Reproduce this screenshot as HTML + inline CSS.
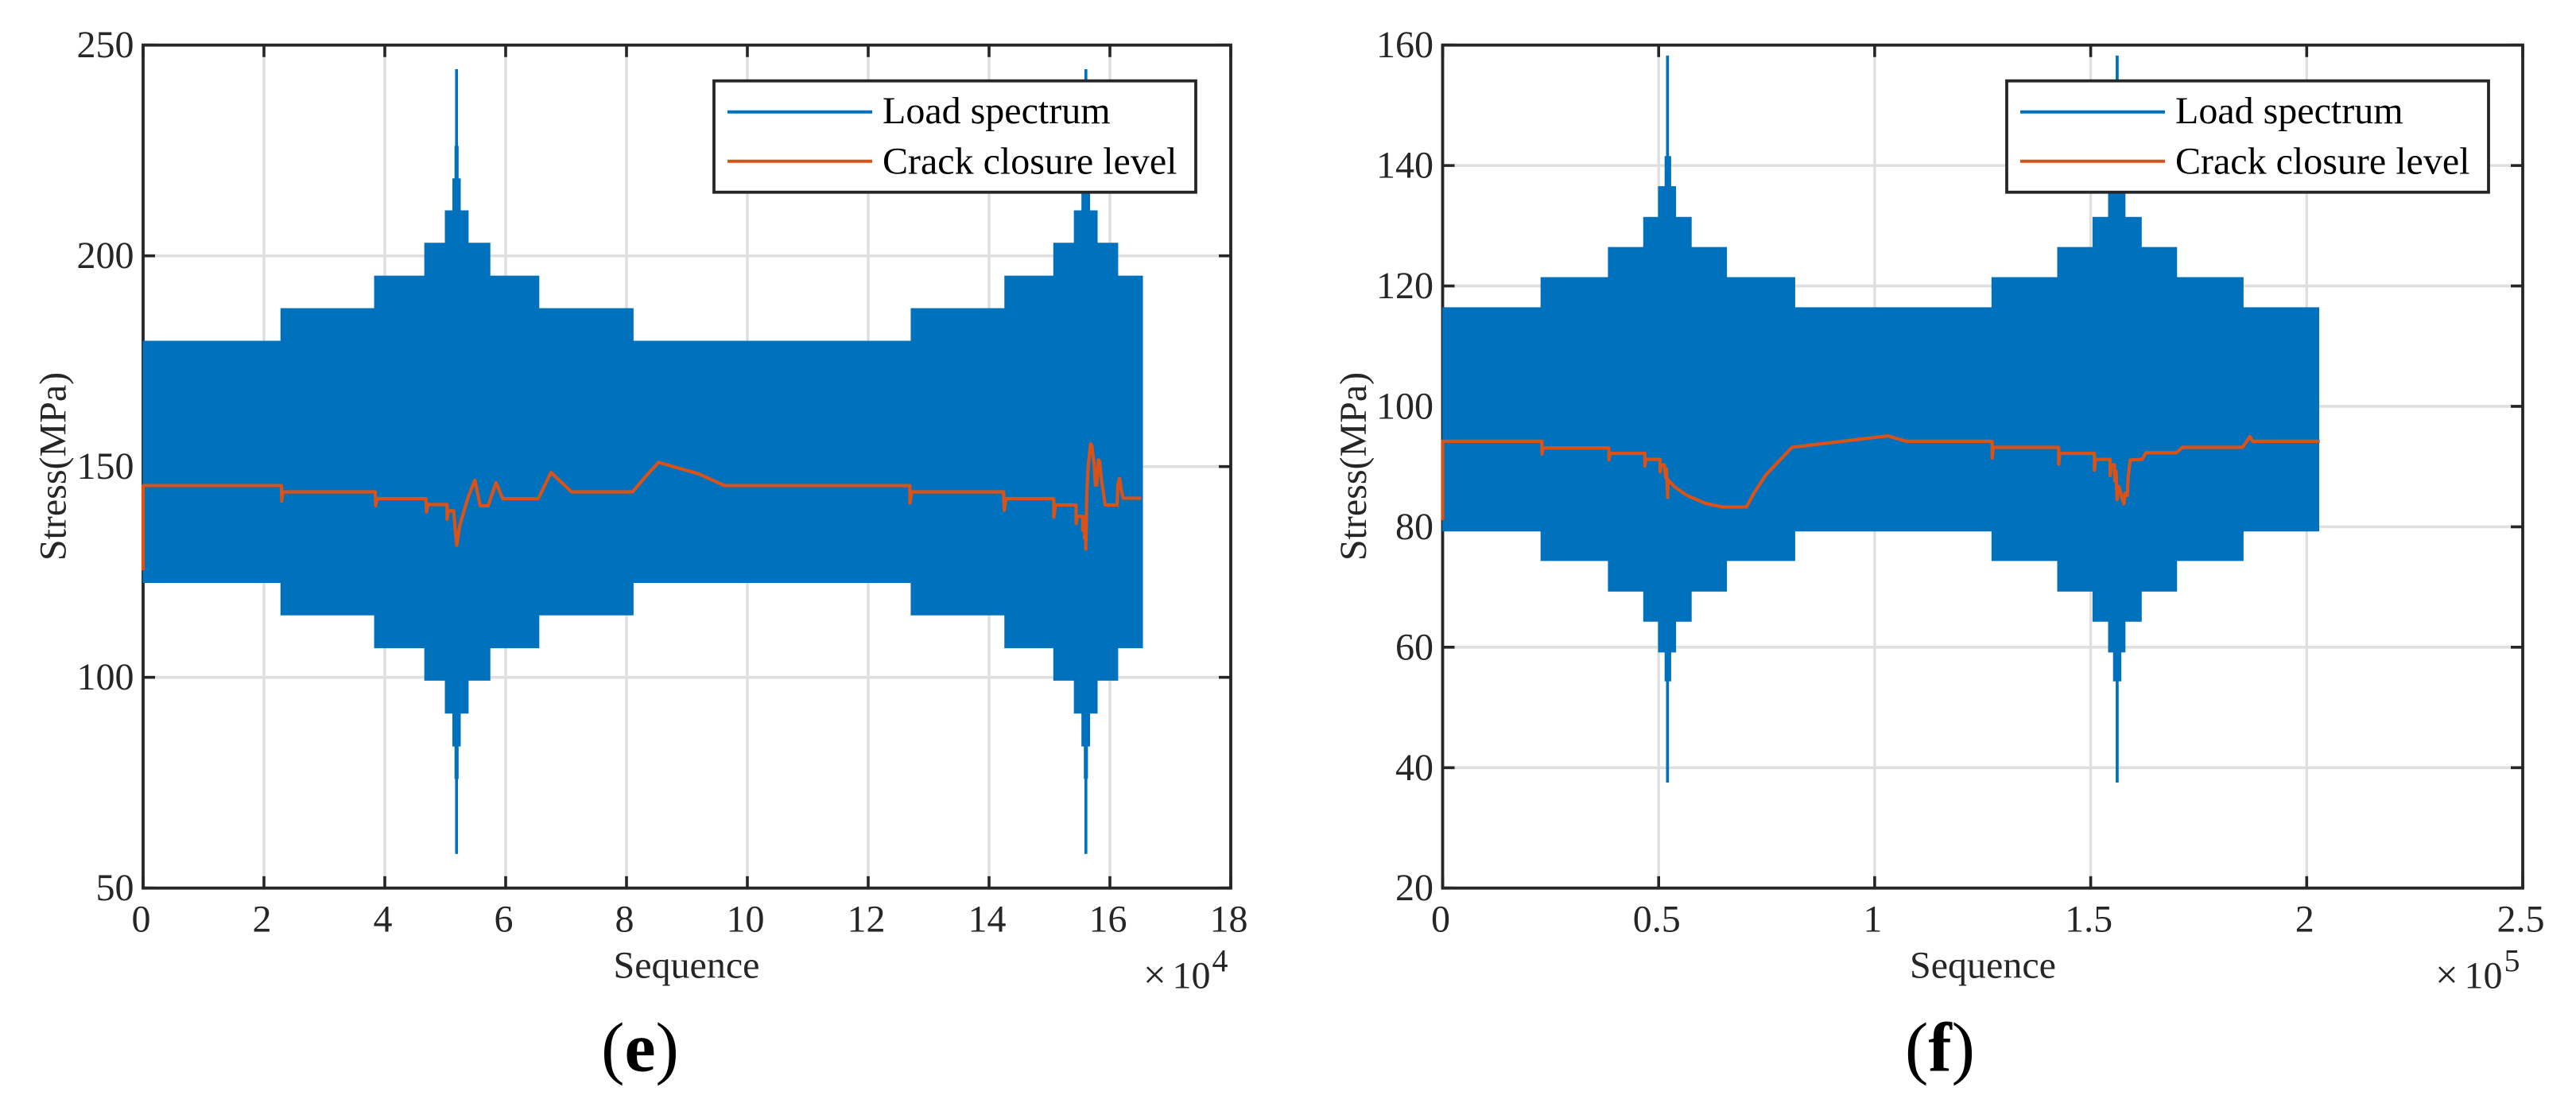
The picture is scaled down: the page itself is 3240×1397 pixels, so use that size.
<!DOCTYPE html>
<html lang="en">
<head>
<meta charset="utf-8">
<title>Load spectrum and crack closure level</title>
<style>
html,body{margin:0;padding:0;background:#fff;width:3240px;height:1397px;overflow:hidden}
svg{display:block}
text{font-family:"Liberation Serif","Times New Roman",serif;fill:#262626}
</style>
</head>
<body>
<svg id="figure" xmlns="http://www.w3.org/2000/svg" width="3240" height="1397" viewBox="0 0 3240 1397">
  <rect x="0" y="0" width="3240" height="1397" fill="#ffffff"/>
  <g id="panel-e"></g>
  <g id="panel-f"></g>
  <text x="805" y="1346.7" font-size="88" text-anchor="middle" style="fill:#000">(<tspan font-weight="bold">e</tspan>)</text>
  <text x="2440" y="1346.7" font-size="88" text-anchor="middle" style="fill:#000">(<tspan font-weight="bold">f</tspan>)</text>
</svg>
<script>
// ---------- Chart (e) data ----------
const xTicksE = [0, 2, 4, 6, 8, 10, 12, 14, 16, 18];
const yTicksE = [50, 100, 150, 200, 250];
const spectrumEdgesE = [0, 2.28, 3.83, 4.66, 5.0, 5.125, 5.16, 5.17, 5.205, 5.215, 5.25, 5.38, 5.74, 6.55, 8.11, 12.71, 14.26, 15.07, 15.41, 15.535, 15.575, 15.585, 15.62, 15.63, 15.665, 15.79, 16.13, 16.54];
const spectrumUpperE = [179.75, 187.5, 195.2, 203, 210.7, 218.3, 226, 244.2, 226, 218.3, 210.7, 203, 195.2, 187.5, 179.75, 187.5, 195.2, 203, 210.7, 218.3, 226, 244.2, 226, 218.3, 210.7, 203, 195.2];
const spectrumLowerE = [122.5, 114.8, 107, 99.3, 91.5, 83.7, 76, 58.2, 76, 83.7, 91.5, 99.3, 107, 114.8, 122.5, 114.8, 107, 99.3, 91.5, 83.7, 76, 58.2, 76, 83.7, 91.5, 99.3, 107];
const closureSeqE = [0, 0, 2.29, 2.295, 2.31, 3.84, 3.85, 3.87, 4.68, 4.69, 4.71, 5.03, 5.03, 5.05, 5.14, 5.17, 5.19, 5.24, 5.38, 5.49, 5.58, 5.71, 5.84, 5.95, 6.54, 6.75, 7.09, 8.10, 8.30, 8.53, 9.19, 9.62, 12.69, 12.69, 12.72, 14.24, 14.25, 14.28, 15.07, 15.07, 15.10, 15.44, 15.44, 15.46, 15.55, 15.55, 15.58, 15.58, 15.60, 15.60, 15.62, 15.64, 15.68, 15.70, 15.74, 15.76, 15.78, 15.81, 15.83, 15.86, 15.90, 15.92, 16.12, 16.13, 16.16, 16.19, 16.22, 16.52];
const closureStressE = [125.4, 145.5, 145.5, 141.8, 144, 144, 140.7, 142.4, 142.4, 139.2, 141, 141, 137.5, 139.5, 139.5, 134.3, 131.3, 136, 142.8, 146.8, 140.7, 140.7, 146.2, 142.4, 142.4, 148.6, 144, 144, 147.4, 151, 148.3, 145.5, 145.5, 141.3, 144, 144, 139.6, 142.4, 142.4, 138, 140.9, 140.9, 136.5, 138.2, 138.2, 134.9, 138, 133, 138, 130.4, 144.3, 150, 155.4, 155, 150.6, 145.6, 145.6, 151.6, 151.3, 146.9, 143.1, 140.9, 140.9, 145.6, 147.2, 144.3, 142.5, 142.5];

// ---------- Chart (f) data ----------
const xTicksF = [0, 0.5, 1, 1.5, 2, 2.5];
const yTicksF = [20, 40, 60, 80, 100, 120, 140, 160];
const spectrumEdgesF = [0, 0.2276, 0.3835, 0.4652, 0.4995, 0.5147, 0.518, 0.523, 0.528, 0.5394, 0.5755, 0.6572, 0.8151, 1.2713, 1.4235, 1.5052, 1.5412, 1.5527, 1.5588, 1.5638, 1.57, 1.5795, 1.6172, 1.699, 1.8529, 2.028];
const spectrumUpperF = [116.4, 121.4, 126.4, 131.4, 136.5, 141.5, 158.2, 141.5, 136.5, 131.4, 126.4, 121.4, 116.4, 121.4, 126.4, 131.4, 136.5, 141.5, 158.2, 141.5, 136.5, 131.4, 126.4, 121.4, 116.4];
const spectrumLowerF = [79.3, 74.4, 69.3, 64.3, 59.2, 54.4, 37.6, 54.4, 59.2, 64.3, 69.3, 74.4, 79.3, 74.4, 69.3, 64.3, 59.2, 54.4, 37.6, 54.4, 59.2, 64.3, 69.3, 74.4, 79.3];
const closureSeqF = [0, 0, 0.2299, 0.2299, 0.2328, 0.3848, 0.3848, 0.3874, 0.468, 0.468, 0.4702, 0.5031, 0.5031, 0.5052, 0.5131, 0.5162, 0.518, 0.5208, 0.5215, 0.5377, 0.5659, 0.6082, 0.6469, 0.7032, 0.7205, 0.749, 0.8088, 1.0305, 1.0729, 1.272, 1.272, 1.2745, 1.4259, 1.4259, 1.4284, 1.5087, 1.5087, 1.511, 1.5449, 1.5449, 1.5477, 1.5547, 1.556, 1.5587, 1.5609, 1.5651, 1.5767, 1.5793, 1.5848, 1.5866, 1.5914, 1.6191, 1.6277, 1.6982, 1.7124, 1.8517, 1.8688, 1.8749, 2.0302];
const closureStressF = [81.1, 94.2, 94.2, 92.1, 93.1, 93.1, 91.1, 92.2, 92.2, 90.1, 91.2, 91.2, 89.1, 90.3, 90.3, 88.2, 89.6, 84.9, 87.8, 86.6, 85.2, 83.9, 83.3, 83.3, 85.6, 88.7, 93.2, 95.1, 94.2, 94.2, 91.4, 93.2, 93.2, 90.4, 92.2, 92.2, 89.4, 91.2, 91.2, 88.5, 90.3, 90.3, 87.6, 89.2, 84.5, 86.7, 83.8, 85.6, 85.2, 88.2, 91.1, 91.2, 92.3, 92.3, 93.2, 93.2, 95, 94.2, 94.2];

const legendLabels = ["Load spectrum", "Crack closure level"];
const NS = "http://www.w3.org/2000/svg";
const BLUE = "#0071BC", ORANGE = "#D95319", AXIS = "#262626", GRID = "#dfdfdf";

function mk(parent, tag, attrs, text) {
  const el = document.createElementNS(NS, tag);
  for (const k in attrs) el.setAttribute(k, attrs[k]);
  if (text !== undefined) el.textContent = text;
  parent.appendChild(el);
  return el;
}

function drawChart(o) {
  const g = document.getElementById(o.id);
  const top = 56.7, bottom = 1116.7;
  const xMin = o.xTicks[0], xMax = o.xTicks[o.xTicks.length - 1];
  const yMin = o.yTicks[0], yMax = o.yTicks[o.yTicks.length - 1];
  const xs = v => o.left + (v - xMin) / (xMax - xMin) * (o.right - o.left);
  const ys = v => bottom - (v - yMin) / (yMax - yMin) * (bottom - top);

  // grid
  o.xTicks.forEach(v => {
    const l = mk(g, "line", {x1: xs(v), x2: xs(v), y1: top, y2: bottom, stroke: GRID, "stroke-width": 3.4});
    
    
  });
  o.yTicks.forEach(v => {
    const l = mk(g, "line", {x1: o.left, x2: o.right, y1: ys(v), y2: ys(v), stroke: GRID, "stroke-width": 3.6});
    
    
  });

  // ticks
  const tl = 15;
  o.xTicks.forEach(v => {
    const d = `M${xs(v)} ${bottom}V${bottom - tl}M${xs(v)} ${top}V${top + tl}`;
    const t = mk(g, "path", {d: d, stroke: AXIS, "stroke-width": 3.6, fill: "none"});
    
    
  });
  o.yTicks.forEach(v => {
    const d = `M${o.left} ${ys(v)}H${o.left + tl}M${o.right} ${ys(v)}H${o.right - tl}`;
    const t = mk(g, "path", {d: d, stroke: AXIS, "stroke-width": 3.6, fill: "none"});
    
    
  });

  // axes box
  const box = mk(g, "rect", {x: o.left, y: top, width: o.right - o.left, height: bottom - top, fill: "none", stroke: AXIS, "stroke-width": 3.8});
  
  

  // load spectrum envelope
  let up = `M${xs(o.edges[0])} ${ys(o.lower[0])}`;
  for (let i = 0; i < o.upper.length; i++) {
    up += `L${xs(o.edges[i])} ${ys(o.upper[i])}L${xs(o.edges[i + 1])} ${ys(o.upper[i])}`;
  }
  for (let i = o.lower.length - 1; i >= 0; i--) {
    up += `L${xs(o.edges[i + 1])} ${ys(o.lower[i])}L${xs(o.edges[i])} ${ys(o.lower[i])}`;
  }
  const env = mk(g, "path", {d: up + "Z", fill: BLUE, stroke: BLUE, "stroke-width": 1});
  
  

  // crack closure level
  const pts = o.cx.map((v, i) => xs(v) + "," + ys(o.cy[i])).join(" ");
  const cl = mk(g, "polyline", {points: pts, fill: "none", stroke: ORANGE, "stroke-width": 4.2, "stroke-linejoin": "round"});
  
  

  // tick labels
  o.xTicks.forEach(v => {
    const t = mk(g, "text", {x: xs(v) - 2.5, y: 1171.5, "font-size": 48, "text-anchor": "middle"}, String(v));
    
    
  });
  o.yTicks.forEach(v => {
    const t = mk(g, "text", {x: o.left - 11.5, y: ys(v) + 15.5, "font-size": 48, "text-anchor": "end"}, String(v));
    
    
  });

  // axis titles
  const xt = mk(g, "text", {x: o.xTitleX, y: 1229.3, "font-size": 48, "text-anchor": "middle"}, "Sequence");
  
  
  const yt = mk(g, "text", {x: 0, y: 0, "font-size": 48, "text-anchor": "middle", transform: `translate(${o.yTitleX} 586.5) rotate(-90)`}, "Stress(MPa)");
  
  

  // exponent
  const ex = mk(g, "g", {});
  
  
  mk(ex, "text", {x: o.expX, y: 1242.5, "font-size": 51}, "\u00D7");
  mk(ex, "text", {x: o.expX + 36.5, y: 1242.7, "font-size": 48}, "10");
  mk(ex, "text", {x: o.expX + 86.5, y: 1221.5, "font-size": 40}, o.exponent);

  // legend
  const lg = mk(g, "g", {});
  
  
  mk(lg, "rect", {x: o.legendX, y: 101.7, width: 606, height: 140, fill: "#fff", stroke: AXIS, "stroke-width": 3.8});
  const rows = [[BLUE, 140.7, 155], [ORANGE, 202.7, 218.3]];
  legendLabels.forEach((lab, i) => {
    const e = mk(lg, "g", {});
    
    
    mk(e, "line", {x1: o.legendX + 17, x2: o.legendX + 199, y1: rows[i][1], y2: rows[i][1], stroke: rows[i][0], "stroke-width": 4});
    const t = mk(e, "text", {x: o.legendX + 212, y: rows[i][2], "font-size": 48}, lab);
    t.style.fill = "#000";
  });
}

drawChart({
  id: "panel-e", left: 180, right: 1548,
  xTicks: xTicksE, yTicks: yTicksE,
  edges: spectrumEdgesE, upper: spectrumUpperE, lower: spectrumLowerE,
  cx: closureSeqE, cy: closureStressE,
  xTitleX: 863.5, yTitleX: 82.5, expX: 1438, exponent: "4", legendX: 898
});
drawChart({
  id: "panel-f", left: 1814.5, right: 3173,
  xTicks: xTicksF, yTicks: yTicksF,
  edges: spectrumEdgesF, upper: spectrumUpperF, lower: spectrumLowerF,
  cx: closureSeqF, cy: closureStressF,
  xTitleX: 2494, yTitleX: 1718, expX: 3063, exponent: "5", legendX: 2524
});
</script>
</body>
</html>
